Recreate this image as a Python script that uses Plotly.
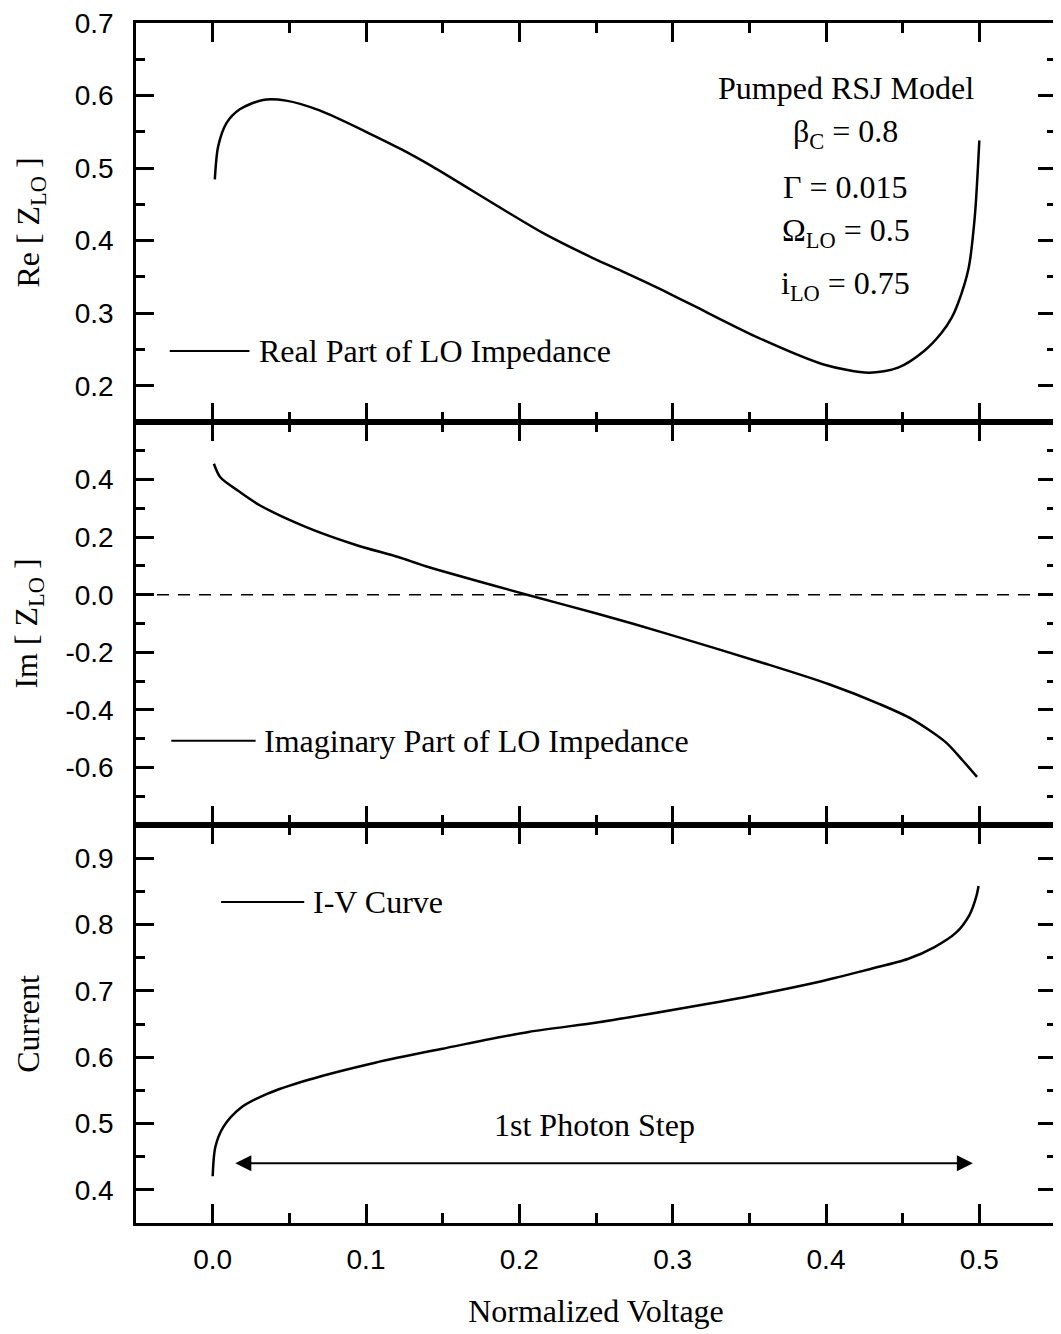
import plotly.graph_objects as go
from plotly.subplots import make_subplots

# ---------------- data ----------------
re_v = [0.0014, 0.0036, 0.009, 0.0177, 0.0328, 0.0479, 0.0697, 0.102, 0.1238, 0.1434,
        0.215, 0.248, 0.269, 0.293, 0.313, 0.356, 0.399, 0.428, 0.447, 0.464, 0.475,
        0.482, 0.486, 0.493, 0.497, 0.500]
re_z = [0.4845, 0.530, 0.562, 0.581, 0.594, 0.593, 0.5795, 0.548, 0.525, 0.502,
        0.411, 0.376, 0.356, 0.332, 0.311, 0.266, 0.229, 0.218, 0.225, 0.248, 0.272,
        0.294, 0.313, 0.362, 0.432, 0.538]

im_v = [0.0008, 0.005, 0.018, 0.031, 0.061, 0.094, 0.121, 0.139, 0.205, 0.251, 0.296,
        0.359, 0.402, 0.435, 0.456, 0.478, 0.489, 0.4985]
im_z = [0.455, 0.408, 0.356, 0.310, 0.235, 0.172, 0.131, 0.099, 0.0, -0.066, -0.135,
        -0.237, -0.311, -0.380, -0.432, -0.512, -0.575, -0.633]

iv_v = [0.0, 0.0017, 0.007, 0.018, 0.0355, 0.062, 0.106, 0.150, 0.206, 0.2517, 0.2997,
        0.3509, 0.3949, 0.4088, 0.429, 0.4533, 0.4708, 0.485, 0.4937, 0.498, 0.4995]
iv_i = [0.4205, 0.4642, 0.4949, 0.5231, 0.5447, 0.5656, 0.5917, 0.6128, 0.638, 0.6526,
        0.6712, 0.6923, 0.7133, 0.7211, 0.733, 0.748, 0.766, 0.788, 0.815, 0.842, 0.858]

x_tick_vals = [0.0, 0.1, 0.2, 0.3, 0.4, 0.5]
x_tick_text = ["0.0", "0.1", "0.2", "0.3", "0.4", "0.5"]
re_tick_vals = [0.2, 0.3, 0.4, 0.5, 0.6, 0.7]
re_tick_text = ["0.2", "0.3", "0.4", "0.5", "0.6", "0.7"]
im_tick_vals = [-0.6, -0.4, -0.2, 0.0, 0.2, 0.4]
im_tick_text = ["-0.6", "-0.4", "-0.2", "0.0", "0.2", "0.4"]
iv_tick_vals = [0.4, 0.5, 0.6, 0.7, 0.8, 0.9]
iv_tick_text = ["0.4", "0.5", "0.6", "0.7", "0.8", "0.9"]

param_lines = ["Pumped RSJ Model", "β<sub>C</sub> = 0.8", "Γ = 0.015",
               "Ω<sub>LO</sub> = 0.5", "i<sub>LO</sub> = 0.75"]
param_y = [0.610, 0.547, 0.474, 0.411, 0.338]

SERIF = "Liberation Serif"
SANS = "Liberation Sans"

fig = make_subplots(rows=3, cols=1, vertical_spacing=0, row_heights=[399, 403, 398])

line_style = dict(color="black", width=2.5, shape="spline", smoothing=0.8)
fig.add_trace(go.Scatter(x=re_v, y=re_z, mode="lines", line=line_style, showlegend=False), row=1, col=1)
fig.add_trace(go.Scatter(x=im_v, y=im_z, mode="lines", line=line_style, showlegend=False), row=2, col=1)
fig.add_trace(go.Scatter(x=iv_v, y=iv_i, mode="lines", line=line_style, showlegend=False), row=3, col=1)

def x_axis(show):
    return dict(range=[-0.05, 0.55], showline=True, linewidth=2.5, linecolor="black",
                mirror="ticks", ticks="inside", ticklen=19, tickwidth=2.5, tickcolor="black",
                tickmode="array", tickvals=x_tick_vals, ticktext=x_tick_text,
                showticklabels=show, showgrid=False, zeroline=False, automargin=False,
                ticklabelstandoff=10, ticklabeloverflow="allow",
                tickfont=dict(family=SANS, size=28, color="black"),
                minor=dict(dtick=0.05, tick0=0, ticks="inside", ticklen=10,
                           tickwidth=2.5, tickcolor="black", showgrid=False))

def y_axis(rng, vals, text, minor_dt, title):
    return dict(range=rng, showline=True, linewidth=2.5, linecolor="black",
                mirror="ticks", ticks="inside", ticklen=18, tickwidth=2.5, tickcolor="black",
                tickmode="array", tickvals=vals, ticktext=text, automargin=False,
                showgrid=False, zeroline=False, ticklabelstandoff=14,
                ticklabeloverflow="allow",
                tickfont=dict(family=SANS, size=28, color="black"),
                title=dict(text=title, font=dict(family=SERIF, size=32, color="black"), standoff=26),
                minor=dict(dtick=minor_dt, tick0=0, ticks="inside", ticklen=9,
                           tickwidth=2.5, tickcolor="black", showgrid=False))

fig.update_xaxes(x_axis(False), row=1, col=1)
fig.update_xaxes(x_axis(False), row=2, col=1)
fig.update_xaxes(x_axis(True), row=3, col=1)
fig.update_xaxes(title=dict(text="Normalized Voltage", font=dict(family=SERIF, size=32, color="black"),
                            standoff=26), row=3, col=1)
fig.update_yaxes(y_axis([0.15, 0.7], re_tick_vals, re_tick_text, 0.05, "Re [ Z<sub>LO</sub> ]"), row=1, col=1)
fig.update_yaxes(y_axis([-0.8, 0.6], im_tick_vals, im_tick_text, 0.1, "Im [ Z<sub>LO</sub> ]"), row=2, col=1)
fig.update_yaxes(y_axis([0.35, 0.95], iv_tick_vals, iv_tick_text, 0.05, "Current"), row=3, col=1)

shapes = [
    dict(type="line", xref="x2 domain", x0=0.0, x1=1, yref="y2", y0=0, y1=0,
         line=dict(color="black", width=1.6, dash="12px,9px")),
    dict(type="line", xref="x", yref="y", x0=-0.028, x1=0.024, y0=0.248, y1=0.248,
         line=dict(color="black", width=2)),
    dict(type="line", xref="x2", yref="y2", x0=-0.027, x1=0.028, y0=-0.507, y1=-0.507,
         line=dict(color="black", width=2)),
    dict(type="line", xref="x3", yref="y3", x0=0.0055, x1=0.0597, y0=0.834, y1=0.834,
         line=dict(color="black", width=2)),
]

tfont = dict(family=SERIF, size=32, color="black")
annotations = [
    dict(text="Real Part of LO Impedance", xref="x", yref="y", x=0.029, y=0.248,
         xanchor="left", yanchor="middle", showarrow=False, font=tfont),
    dict(text="Imaginary Part of LO Impedance", xref="x2", yref="y2", x=0.032, y=-0.507,
         xanchor="left", yanchor="middle", showarrow=False, font=tfont),
    dict(text="I-V Curve", xref="x3", yref="y3", x=0.064, y=0.834,
         xanchor="left", yanchor="middle", showarrow=False, font=tfont),
    dict(text="1st Photon Step", xref="x3", yref="y3", x=0.249, y=0.498,
         xanchor="center", yanchor="middle", showarrow=False, font=tfont),
    dict(text="", xref="x3", yref="y3", x=0.4958, y=0.440, axref="x3", ayref="y3",
         ax=0.0138, ay=0.440, showarrow=True, arrowhead=2, arrowside="end+start",
         arrowsize=1.6, arrowwidth=2, arrowcolor="black", standoff=0, startstandoff=0),
]
for txt, yy in zip(param_lines, param_y):
    annotations.append(dict(text=txt, xref="x", yref="y", x=0.413, y=yy, xanchor="center",
                            yanchor="middle", showarrow=False, font=tfont))

# the page adds an 8 px body margin, so the figure is 8 px smaller than the window
fig.update_layout(width=1053, height=1326, margin=dict(l=128, r=5, t=15, b=111),
                  plot_bgcolor="white", paper_bgcolor="white",
                  shapes=shapes, annotations=annotations, showlegend=False)

fig.write_html("out.html")
